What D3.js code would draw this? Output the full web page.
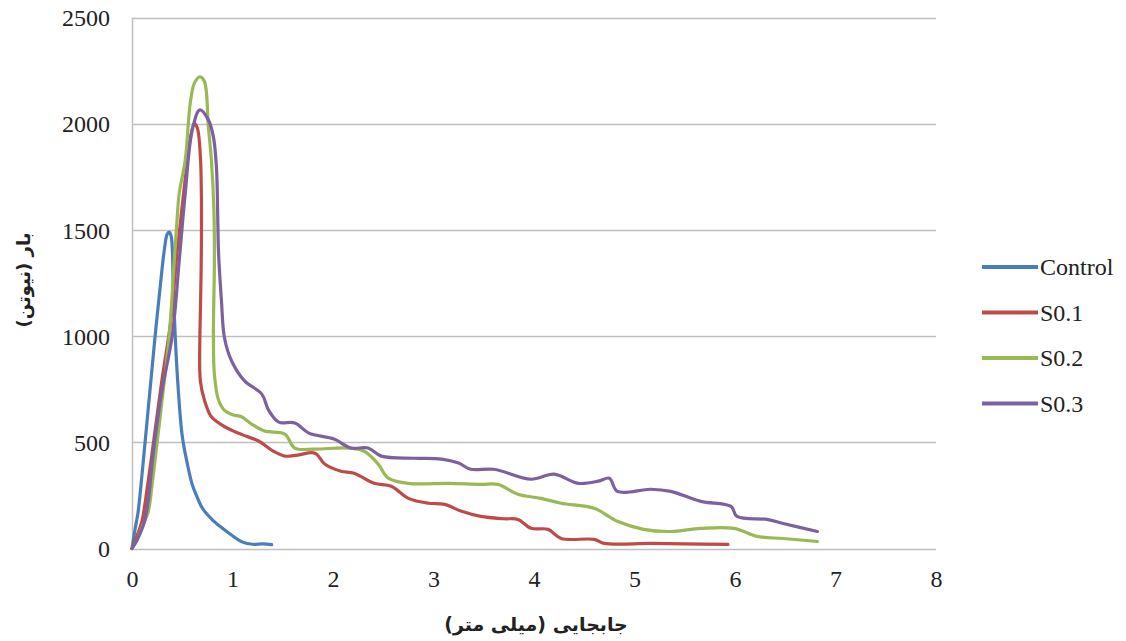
<!DOCTYPE html>
<html>
<head>
<meta charset="utf-8">
<script src="https://cdn.jsdelivr.net/npm/d3@7"></script>
<style>
  html, body { margin: 0; padding: 0; background: #fff; }
  svg { display: block; }
</style>
</head>
<body>
<svg id="chart" width="1126" height="641"></svg>
<script>
// ---- Data ----
const seriesNames = ["Control", "S0.1", "S0.2", "S0.3"];
const seriesColors = ["#4A7EBB", "#BE4B48", "#98B954", "#7D60A0"];
const xTicks = [0, 1, 2, 3, 4, 5, 6, 7, 8];
const yTicks = [0, 500, 1000, 1500, 2000, 2500];
const xTitle = "جابجایی (میلی متر)";
const yTitle = "بار (نیوتن)";

const controlData = [
  [0,0],[0.03,90],[0.06,170],[0.1,350],[0.13,500],[0.18,750],[0.23,1000],[0.28,1230],
  [0.32,1400],[0.35,1480],[0.37,1490],[0.39,1470],[0.41,1250],[0.43,1000],[0.46,750],
  [0.5,530],[0.55,400],[0.6,300],[0.65,240],[0.7,190],[0.8,135],[0.9,95],[1.0,60],
  [1.1,30],[1.2,20],[1.3,22],[1.39,18]
];
const s01Data = [
  [0,0],[0.05,60],[0.1,130],[0.15,280],[0.2,450],[0.3,800],[0.38,1050],[0.45,1400],
  [0.52,1700],[0.58,1930],[0.62,2000],[0.65,1980],[0.68,1850],[0.69,1673],[0.69,1400],
  [0.68,1100],[0.675,990],[0.68,790],[0.72,700],[0.79,620],[0.9,580],[1.0,555],[1.1,535],
  [1.26,506],[1.4,460],[1.52,435],[1.65,440],[1.82,449],[1.92,397],[2.08,364],[2.21,354],
  [2.41,307],[2.58,293],[2.75,236],[2.95,213],[3.11,208],[3.28,175],[3.47,151],[3.7,140],
  [3.84,137],[3.97,95],[4.14,90],[4.27,47],[4.6,43],[4.7,24],[5.16,24],[5.5,22],[5.93,19]
];
const s02Data = [
  [0,0],[0.05,40],[0.1,100],[0.16,170],[0.2,300],[0.25,500],[0.3,700],[0.37,1000],
  [0.42,1350],[0.45,1560],[0.47,1673],[0.53,1829],[0.58,2098],[0.62,2190],[0.675,2221],
  [0.72,2200],[0.76,1985],[0.79,1829],[0.815,1593],[0.82,1356],[0.81,1000],[0.82,820],
  [0.86,700],[0.92,650],[1.0,630],[1.09,620],[1.19,586],[1.32,553],[1.52,539],[1.62,473],
  [1.82,468],[2.15,473],[2.31,458],[2.45,397],[2.55,331],[2.75,307],[3.15,307],[3.47,302],
  [3.64,302],[3.84,255],[4.07,236],[4.27,213],[4.6,189],[4.83,128],[5.09,90],[5.36,80],
  [5.66,95],[5.99,95],[6.22,57],[6.48,47],[6.82,33]
];
const s03Data = [
  [0,0],[0.05,40],[0.12,120],[0.16,220],[0.2,400],[0.23,520],[0.3,750],[0.4,1000],
  [0.47,1356],[0.53,1673],[0.6,1971],[0.675,2065],[0.76,2018],[0.81,1938],[0.84,1796],
  [0.855,1512],[0.86,1404],[0.89,1167],[0.92,992],[0.99,884],[1.12,789],[1.29,728],
  [1.36,650],[1.46,595],[1.62,591],[1.76,543],[2.01,515],[2.18,473],[2.35,473],[2.48,435],
  [2.81,425],[3.08,421],[3.25,402],[3.37,373],[3.6,373],[3.97,326],[4.2,350],[4.44,307],
  [4.64,317],[4.75,331],[4.83,269],[5.16,279],[5.36,269],[5.66,222],[5.96,198],[6.02,151],
  [6.32,137],[6.48,118],[6.82,80]
];
const allSeries = [controlData, s01Data, s02Data, s03Data];

// ---- Layout ----
const svg = d3.select("#chart");
const plot = { left: 132, right: 936, top: 17.5, bottom: 548.5 };
const serifFont = "'Times New Roman', Times, Tinos, 'Liberation Serif', 'Noto Serif', 'DejaVu Serif', FreeSerif, serif";
const arabicFont = "'DejaVu Sans', sans-serif";

const x = d3.scaleLinear().domain([0, 8]).range([plot.left, plot.right]);
const y = d3.scaleLinear().domain([0, 2500]).range([plot.bottom, plot.top]);

// gridlines
svg.append("g")
  .selectAll("line")
  .data(yTicks)
  .join("line")
  .attr("x1", plot.left).attr("x2", plot.right)
  .attr("y1", d => Math.round(y(d)) + 0.5).attr("y2", d => Math.round(y(d)) + 0.5)
  .attr("stroke", "#bfbfbf").attr("stroke-width", 1.5);

// vertical axis line
svg.append("line")
  .attr("x1", plot.left + 0.5).attr("x2", plot.left + 0.5)
  .attr("y1", plot.top).attr("y2", plot.bottom)
  .attr("stroke", "#bfbfbf").attr("stroke-width", 1.5);

// axes (labels only)
const yAxis = svg.append("g")
  .attr("transform", `translate(${plot.left - 22},0)`)
  .call(d3.axisLeft(y).tickValues(yTicks).tickSize(0).tickPadding(0).tickFormat(d3.format("d")));
yAxis.attr("font-family", serifFont).attr("font-size", 24);
yAxis.select(".domain").remove();
yAxis.selectAll("text")
  .style("font-family", serifFont)
  .attr("fill", "#222")
  .attr("dy", "0.34em");

const xAxis = svg.append("g")
  .attr("transform", `translate(0,${plot.bottom + 20})`)
  .call(d3.axisBottom(x).tickValues(xTicks).tickSize(0).tickPadding(0).tickFormat(d3.format("d")));
xAxis.attr("font-family", serifFont).attr("font-size", 24);
xAxis.select(".domain").remove();
xAxis.selectAll("text")
  .style("font-family", serifFont)
  .attr("fill", "#222")
  .attr("dy", "0.75em");

// lines
const line = d3.line()
  .x(d => x(d[0])).y(d => y(d[1]))
  .curve(d3.curveCatmullRom.alpha(0.5));

svg.append("g")
  .selectAll("path")
  .data(allSeries)
  .join("path")
  .attr("d", d => line(d))
  .attr("fill", "none")
  .attr("stroke", (d, i) => seriesColors[i])
  .attr("stroke-width", 3.2)
  .attr("stroke-linejoin", "round")
  .attr("stroke-linecap", "round");

// titles
svg.append("text")
  .attr("x", 536).attr("y", 631)
  .attr("text-anchor", "middle")
  .attr("direction", "rtl")
  .style("font-family", arabicFont).style("font-weight", "bold").style("font-size", "19px")
  .attr("fill", "#222")
  .text(xTitle);

svg.append("text")
  .attr("transform", "translate(30,280) rotate(-90)")
  .attr("text-anchor", "middle")
  .attr("direction", "rtl")
  .style("font-family", arabicFont).style("font-weight", "bold").style("font-size", "18px")
  .attr("fill", "#222")
  .text(yTitle);

// legend
const legend = svg.append("g").attr("transform", "translate(982,267)");
const items = legend.selectAll("g")
  .data(seriesNames)
  .join("g")
  .attr("transform", (d, i) => `translate(0,${i * 45.5})`);
items.append("line")
  .attr("x1", 0).attr("x2", 56).attr("y1", 0).attr("y2", 0)
  .attr("stroke", (d, i) => seriesColors[i])
  .attr("stroke-width", 4);
items.append("text")
  .attr("x", 58).attr("y", 0).attr("dy", "0.34em")
  .style("font-family", serifFont).style("font-size", "24px")
  .attr("fill", "#222")
  .text(d => d);
</script>
</body>
</html>
